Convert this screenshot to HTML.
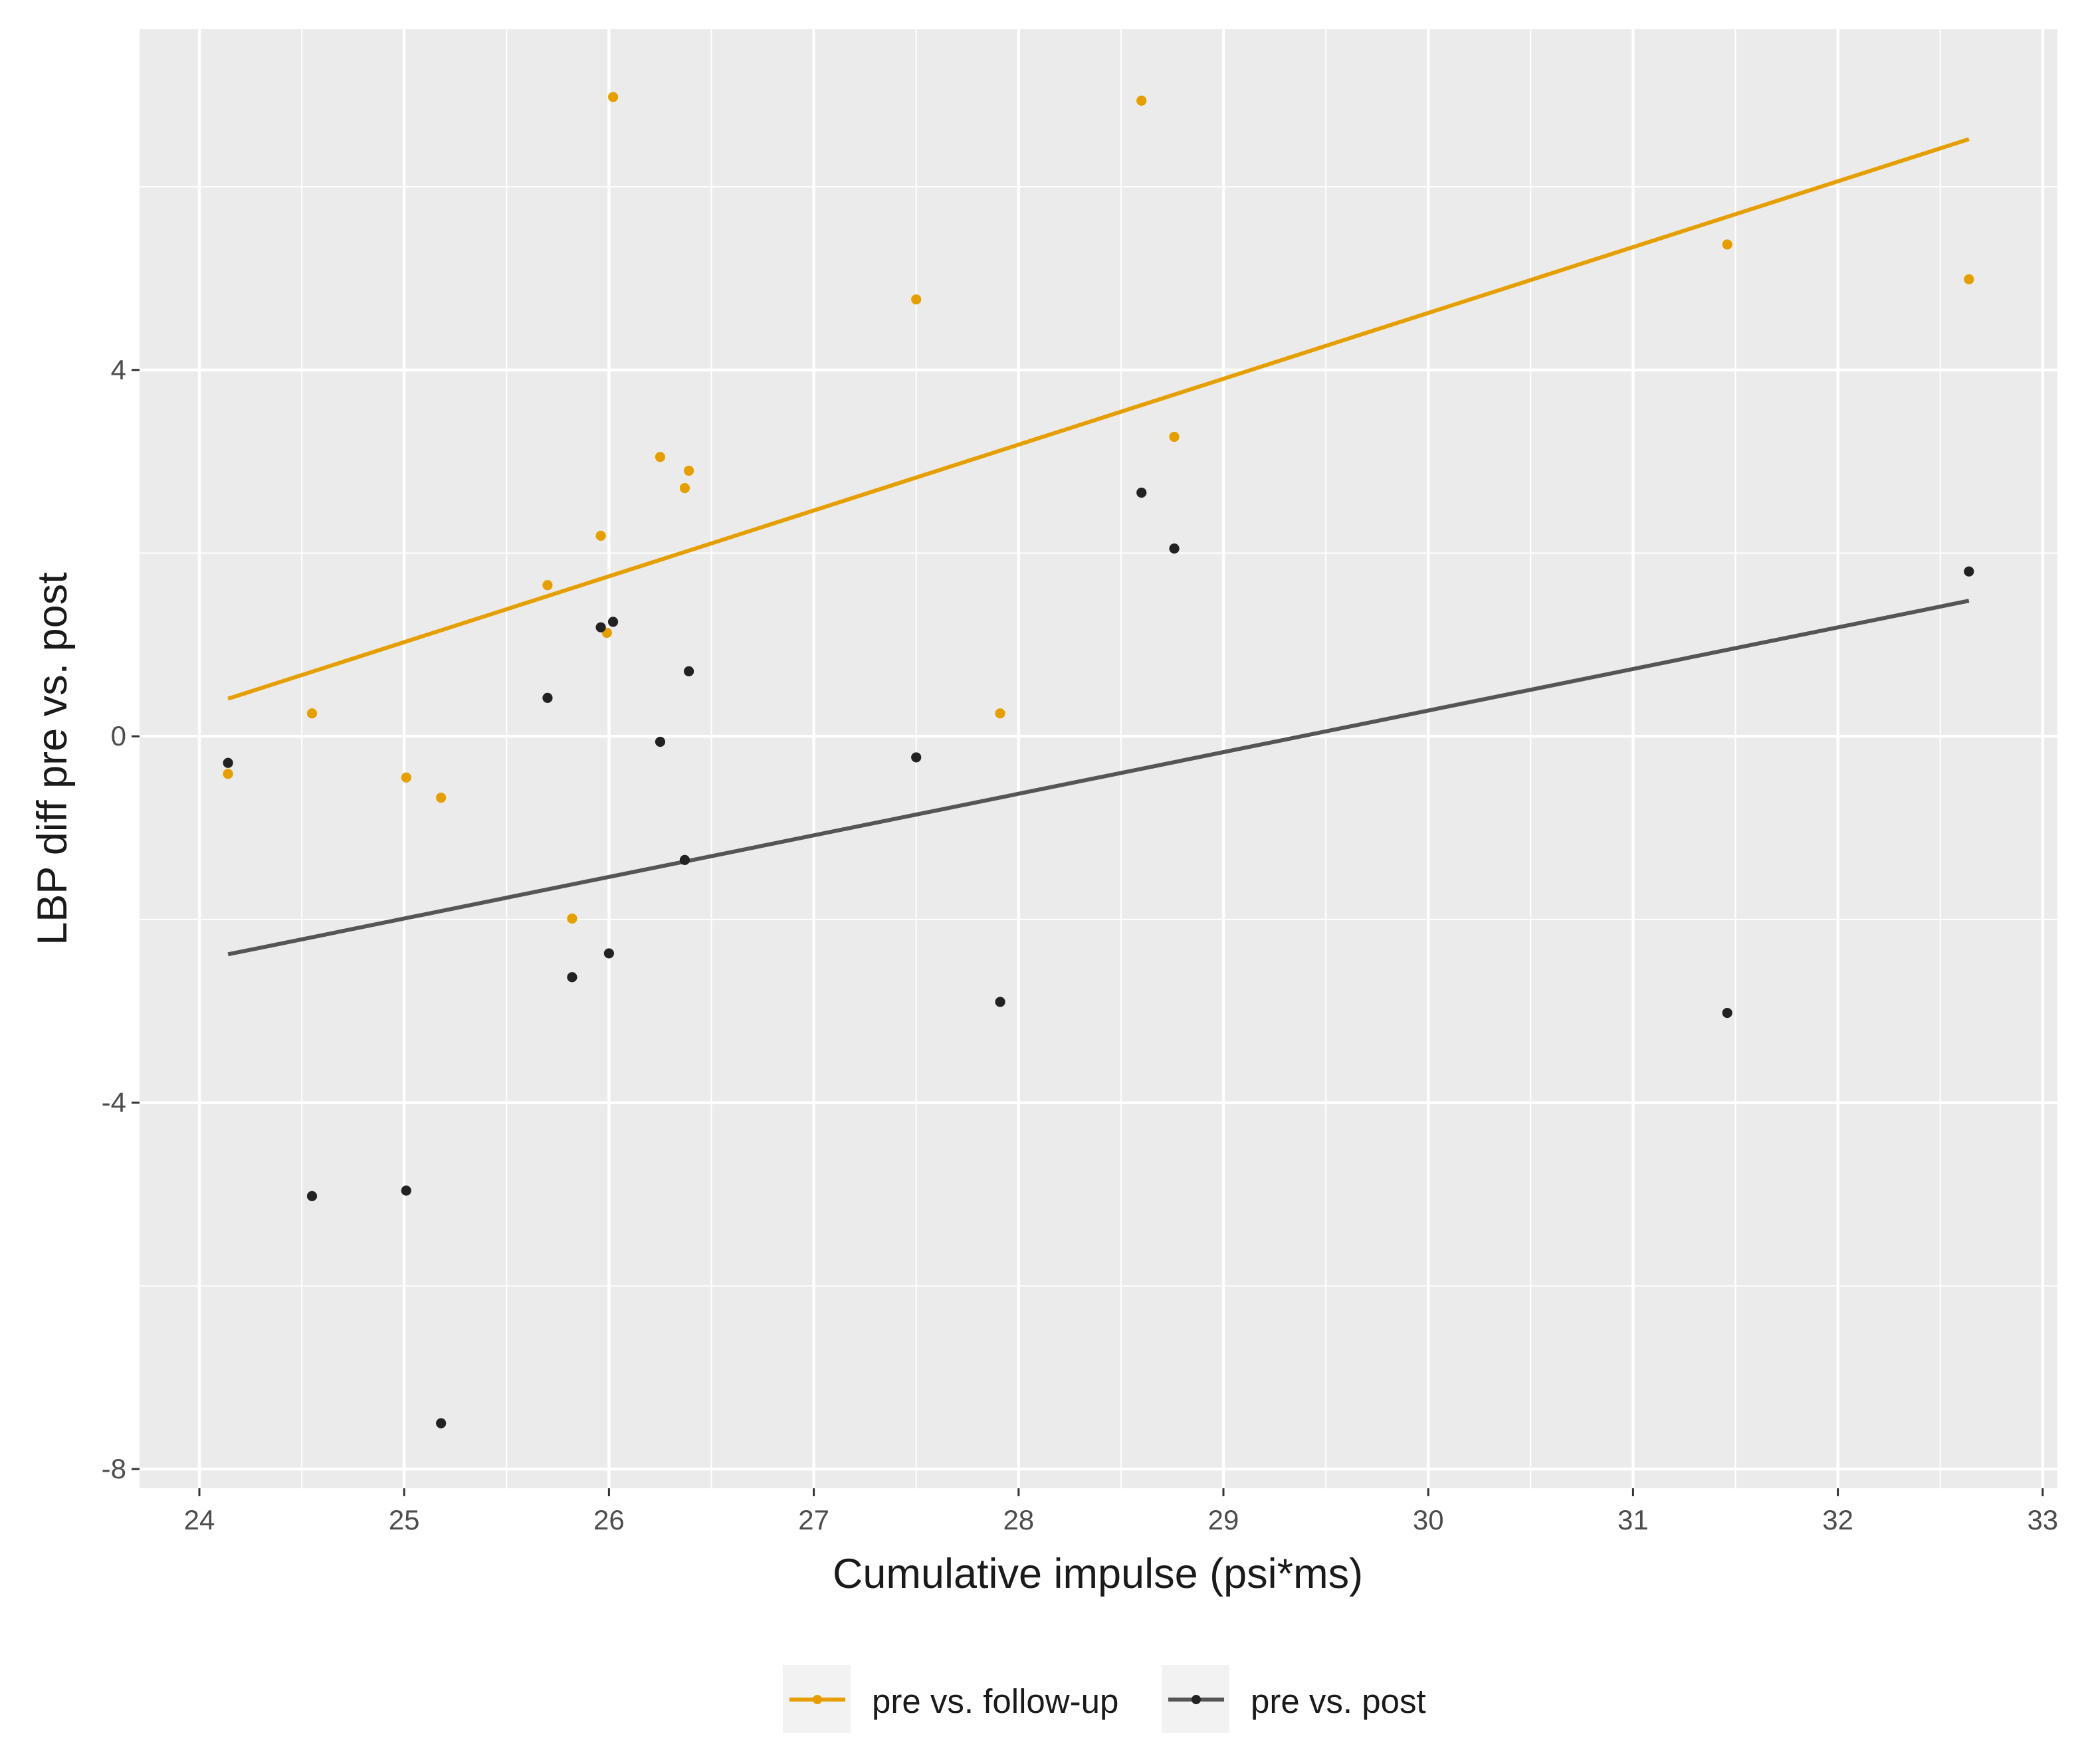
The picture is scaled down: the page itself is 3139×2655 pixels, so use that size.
<!DOCTYPE html>
<html><head><meta charset="utf-8"><style>
html,body{margin:0;padding:0;background:#fff;}
svg{display:block;font-family:"Liberation Sans",Arial,sans-serif;}
</style></head><body>
<svg id="chart" width="3139" height="2655" viewBox="0 0 1569.5 1327.5">
<rect x="0" y="0" width="1569.5" height="1327.5" fill="#fff"/>
<rect x="105" y="22" width="1443" height="1098" fill="#ebebeb"/>
<g id="grid"></g>
<g id="lines"></g>
<g id="points"></g>
<g id="axes"></g>
<text x="826" y="1195" text-anchor="middle" font-size="31.5" fill="#1a1a1a">Cumulative impulse (psi*ms)</text>
<text transform="translate(50,571) rotate(-90)" text-anchor="middle" font-size="31.5" fill="#1a1a1a">LBP diff pre vs. post</text>
<g>
<g>
<rect x="589" y="1253" width="51" height="51" fill="#f2f2f2"/>
<line x1="594" y1="1279" x2="636" y2="1279" stroke="#e69f00" stroke-width="3"/>
<circle cx="615" cy="1279" r="3.5" fill="#e69f00"/>
<text x="656" y="1289" font-size="25.5" fill="#1a1a1a">pre vs. follow-up</text>
</g>
<g>
<rect x="874" y="1253" width="51" height="51" fill="#f2f2f2"/>
<line x1="879" y1="1279" x2="921" y2="1279" stroke="#555" stroke-width="3"/>
<circle cx="900" cy="1279" r="3.5" fill="#222"/>
<text x="941" y="1289" font-size="25.5" fill="#1a1a1a">pre vs. post</text>
</g>
</g>
</svg>
<script>
const xVals = [24.14,24.55,25.01,25.18,25.70,25.82,25.96,25.99,26.02,26.25,26.37,26.39,27.50,27.91,28.60,28.76,31.46,32.64];
const followUpVals = [-0.41,0.25,-0.45,-0.67,1.65,-1.99,2.19,1.13,6.98,3.05,2.71,2.90,4.77,0.25,6.94,3.27,5.37,4.99];
const xValsPost = [24.14,24.55,25.01,25.18,25.70,25.82,25.96,26.00,26.02,26.25,26.37,26.39,27.50,27.91,28.60,28.76,31.46,32.64];
const postVals = [-0.29,-5.02,-4.96,-7.50,0.42,-2.63,1.19,-2.37,1.25,-0.06,-1.35,0.71,-0.23,-2.90,2.66,2.05,-3.02,1.80];
const trendX = [24.14,32.64];
const trendFollowUp = [0.41,6.52];
const trendPost = [-2.38,1.48];
const xTicks = [24,25,26,27,28,29,30,31,32,33];
const yTicks = [-8,-4,0,4];

const NS="http://www.w3.org/2000/svg";
const X0=105,X1=1548,Y0=22,Y1=1120;
const xmin=23.708,xmax=33.072,ymin=-8.21,ymax=7.72;
function sx(v){return X0+(v-xmin)/(xmax-xmin)*(X1-X0);}
function sy(v){return Y1-(v-ymin)/(ymax-ymin)*(Y1-Y0);}
function mk(tag,attrs,parent){const e=document.createElementNS(NS,tag);for(const k in attrs)e.setAttribute(k,attrs[k]);parent.appendChild(e);return e;}
const grid=document.getElementById('grid'),lines=document.getElementById('lines'),pts=document.getElementById('points'),axes=document.getElementById('axes');
for(let i=0;i<xTicks.length;i++){
  const t=xTicks[i];
  if(i<xTicks.length-1){const m=mk('line',{x1:sx(t+0.5),x2:sx(t+0.5),y1:Y0,y2:Y1,stroke:'#fff','stroke-width':1},grid);
  
  }
  const g=mk('line',{x1:sx(t),x2:sx(t),y1:Y0,y2:Y1,stroke:'#fff','stroke-width':2.2},grid);
  
  
  mk('line',{x1:sx(t),x2:sx(t),y1:Y1,y2:Y1+6,stroke:'#333','stroke-width':1.5},axes);
  const tx=mk('text',{x:sx(t),y:Y1+31,'text-anchor':'middle','font-size':21,fill:'#4d4d4d'},axes);
  tx.textContent=t;
  
  
}
for(const t of [-6,-2,2,6]){
  const m=mk('line',{x1:X0,x2:X1,y1:sy(t),y2:sy(t),stroke:'#fff','stroke-width':1},grid);
  
  
}
for(const t of yTicks){
  const g=mk('line',{x1:X0,x2:X1,y1:sy(t),y2:sy(t),stroke:'#fff','stroke-width':2.2},grid);
  
  
  mk('line',{x1:X0-6,x2:X0,y1:sy(t),y2:sy(t),stroke:'#333','stroke-width':1.5},axes);
  const tx=mk('text',{x:X0-10,y:sy(t)+7,'text-anchor':'end','font-size':21,fill:'#4d4d4d'},axes);
  tx.textContent=t;
  
  
}
const l1=mk('line',{x1:sx(trendX[0]),x2:sx(trendX[1]),y1:sy(trendFollowUp[0]),y2:sy(trendFollowUp[1]),stroke:'#e69f00','stroke-width':3},lines);


const l2=mk('line',{x1:sx(trendX[0]),x2:sx(trendX[1]),y1:sy(trendPost[0]),y2:sy(trendPost[1]),stroke:'#555','stroke-width':3},lines);


for(let i=0;i<xVals.length;i++){
  const c=mk('circle',{cx:sx(xVals[i]),cy:sy(followUpVals[i]),r:3.8,fill:'#e69f00'},pts);
  
  
}
for(let i=0;i<xValsPost.length;i++){
  const c=mk('circle',{cx:sx(xValsPost[i]),cy:sy(postVals[i]),r:3.8,fill:'#222'},pts);
  
  
}
</script>
</body></html>
